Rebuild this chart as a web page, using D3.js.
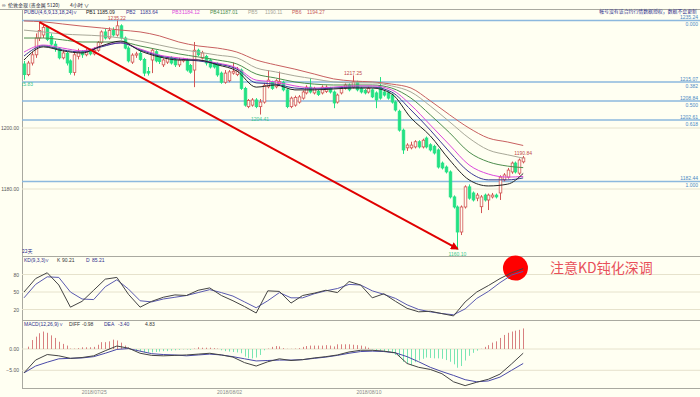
<!DOCTYPE html>
<html lang="zh">
<head>
<meta charset="UTF-8" />
<title>伦敦金现 4小时</title>
<script src="https://d3js.org/d3.v7.min.js"></script>
<style>
  body { margin: 0; background: #fffff2; }
  svg { display: block; }
  text { font-family: "Liberation Sans", Arial, sans-serif; }
  .cjk { font-family: "Noto Sans CJK SC", sans-serif; }
</style>
</head>
<body>
<div id="chart"></div>
<script>
var w = 700, h = 397;
var left = 22, right = 700;

// 4h candles, oldest first
var opens = [1221.0,1217.5,1221.3,1224.0,1229.5,1230.5,1233.0,1230.0,1227.5,1226.0,
  1223.0,1224.5,1222.0,1218.2,1223.5,1225.0,1224.0,1225.2,1224.3,1225.5,
  1228.0,1231.5,1229.5,1232.0,1230.5,1233.5,1229.5,1226.2,1221.6,1223.9,
  1224.5,1222.5,1218.5,1222.3,1225.0,1223.5,1220.7,1221.6,1223.0,1222.3,
  1220.7,1222.0,1222.3,1220.5,1219.0,1225.5,1222.9,1223.5,1222.3,1221.0,
  1221.0,1218.0,1215.0,1215.5,1218.0,1217.5,1219.0,1213.0,1207.0,1207.5,
  1209.2,1207.0,1208.5,1213.5,1215.0,1213.5,1214.5,1215.0,1212.5,1207.0,
  1207.5,1208.5,1209.8,1211.5,1213.4,1211.5,1212.0,1211.5,1212.0,1213.0,
  1211.8,1208.5,1211.5,1213.1,1214.1,1213.4,1215.0,1213.0,1212.3,1211.8,
  1212.5,1211.5,1213.4,1211.8,1211.5,1210.8,1208.5,1205.5,1199.3,1193.5,
  1193.5,1193.8,1195.5,1193.8,1196.7,1194.5,1194.0,1192.8,1188.5,1187.2,
  1185.6,1177.4,1174.1,1165.9,1174.1,1180.7,1178.7,1177.0,1174.2,1178.0,
  1176.4,1177.4,1178.0,1178.7,1183.0,1183.9,1185.6,1188.5,1185.2,1188.9];
var highs = [1222.0,1222.0,1225.0,1231.0,1234.7,1234.0,1233.5,1231.0,1228.5,1226.5,
  1225.5,1225.0,1222.5,1225.0,1226.0,1225.5,1226.0,1226.0,1226.5,1228.5,
  1232.0,1232.5,1233.0,1233.0,1235.22,1234.0,1230.0,1226.8,1224.5,1225.0,
  1225.5,1223.0,1220.0,1226.0,1225.5,1224.0,1222.8,1223.6,1223.5,1222.8,
  1223.0,1223.0,1222.8,1221.0,1228.2,1226.0,1225.3,1224.0,1222.8,1221.6,
  1221.5,1218.5,1219.0,1219.0,1221.5,1220.0,1219.5,1213.5,1209.5,1209.8,
  1209.8,1209.5,1214.8,1219.0,1215.5,1216.0,1218.5,1215.5,1213.0,1210.3,
  1210.6,1210.8,1212.3,1214.0,1216.4,1213.5,1212.5,1214.0,1214.0,1213.5,
  1212.3,1211.3,1213.5,1214.6,1214.6,1217.25,1215.5,1213.5,1212.8,1213.5,
  1213.0,1212.0,1216.7,1212.3,1212.0,1211.3,1209.0,1206.0,1199.8,1195.0,
  1195.5,1196.0,1196.0,1196.5,1197.2,1195.0,1194.5,1193.3,1189.0,1187.7,
  1186.1,1177.9,1174.6,1174.6,1181.2,1181.5,1179.2,1178.7,1178.0,1178.5,
  1178.5,1178.7,1178.5,1184.5,1185.2,1186.9,1189.0,1189.0,1190.0,1190.84];
var lows = [1215.83,1217.0,1220.5,1223.0,1228.5,1229.5,1228.5,1227.0,1225.0,1222.5,
  1222.5,1220.5,1217.5,1217.2,1222.5,1223.0,1223.5,1223.8,1223.8,1225.0,
  1227.5,1229.0,1229.0,1230.0,1230.0,1229.0,1225.8,1221.5,1221.0,1223.0,
  1222.0,1217.0,1217.2,1218.0,1221.5,1221.0,1220.0,1221.0,1220.8,1220.0,
  1220.0,1221.5,1218.5,1217.8,1213.4,1223.5,1222.5,1220.5,1219.5,1219.5,
  1216.8,1214.5,1214.5,1215.0,1217.5,1217.0,1212.5,1207.0,1206.5,1207.0,
  1206.5,1204.41,1208.0,1213.0,1212.5,1213.0,1214.0,1212.0,1206.5,1206.5,
  1207.0,1208.0,1209.3,1211.0,1211.3,1211.0,1210.5,1211.0,1211.5,1211.3,
  1206.5,1208.0,1211.0,1212.6,1212.0,1213.0,1212.0,1211.3,1211.0,1211.3,
  1209.8,1206.5,1209.3,1210.3,1209.3,1208.0,1205.4,1198.8,1191.5,1192.5,
  1193.0,1193.3,1193.3,1193.3,1193.3,1192.3,1191.3,1186.7,1186.4,1185.1,
  1176.9,1173.6,1160.10,1164.9,1173.6,1176.5,1175.9,1176.0,1172.1,1175.9,
  1173.1,1176.9,1176.9,1176.4,1182.5,1183.4,1185.0,1185.1,1184.6,1188.4];
var closes = [1217.5,1221.3,1224.0,1229.5,1232.0,1233.0,1229.0,1227.5,1226.0,1223.0,
  1224.6,1221.3,1218.2,1224.0,1225.0,1224.0,1225.2,1224.3,1225.5,1228.0,
  1231.5,1229.5,1232.0,1230.5,1233.5,1229.5,1226.2,1222.0,1223.9,1224.3,
  1222.5,1218.0,1218.0,1225.5,1222.0,1221.8,1222.3,1223.0,1221.3,1220.7,
  1222.3,1222.5,1219.0,1218.3,1225.5,1224.0,1224.6,1221.3,1220.0,1220.0,
  1217.4,1215.0,1218.0,1218.4,1218.6,1219.0,1213.0,1207.5,1209.0,1209.2,
  1207.0,1208.5,1214.0,1215.7,1213.0,1215.5,1215.2,1212.5,1207.0,1209.8,
  1210.0,1210.2,1211.8,1213.4,1211.8,1213.0,1211.0,1213.4,1213.4,1211.8,
  1208.2,1210.8,1213.1,1214.1,1212.5,1215.1,1212.5,1211.8,1211.5,1213.0,
  1210.2,1209.2,1209.8,1210.8,1209.8,1208.5,1205.9,1199.3,1192.8,1194.4,
  1194.4,1195.5,1193.8,1196.0,1193.8,1192.8,1191.8,1187.2,1186.9,1185.6,
  1177.4,1174.1,1165.9,1174.1,1180.7,1177.0,1176.4,1178.0,1177.4,1176.4,
  1178.0,1178.0,1177.4,1183.9,1184.6,1186.2,1188.5,1185.6,1189.5,1190.2];

// PUBU(4,6,9,13,18,24) read every 5 bars
var pubuIdx = [0,5,10,15,20,25,30,35,40,45,50,55,60,65,70,75,80,85,90,95,100,105,110,115,120,125,129];
var pb1 = [1222.3,1226.6,1225.3,1224.6,1226.9,1228.5,1225.3,1223.3,1222.3,1222.3,1220.7,1218.7,1213.4,1214.1,1212.5,1212.5,1212.8,1213.1,1213.1,1211.2,1203.3,1197.4,1189.5,1183.0,1181.0,1181.6,1185.09];
var pb2 = [1223.6,1226.9,1225.6,1224.9,1226.6,1227.9,1225.6,1223.6,1222.6,1222.0,1221.0,1219.3,1214.8,1214.4,1213.1,1212.8,1213.1,1213.4,1213.4,1211.8,1205.9,1199.3,1192.1,1185.6,1183.0,1183.0,1183.64];
var pb3 = [1224.9,1227.2,1226.2,1225.3,1226.9,1227.9,1225.9,1223.9,1223.0,1222.3,1221.3,1219.7,1215.7,1215.1,1213.8,1213.1,1213.4,1213.8,1213.8,1212.5,1207.5,1201.0,1194.4,1187.9,1184.9,1183.9,1184.12];
var pb4 = [1229.5,1229.5,1228.9,1228.2,1228.2,1228.2,1226.9,1225.6,1224.3,1223.3,1222.3,1221.0,1217.7,1216.4,1215.1,1214.4,1214.1,1214.1,1214.1,1213.1,1209.8,1204.3,1198.4,1192.1,1188.9,1187.5,1187.01];
var pb5 = [1232.1,1231.5,1230.8,1230.5,1230.2,1229.5,1228.5,1227.2,1225.9,1224.9,1223.9,1223.0,1219.7,1218.4,1217.1,1216.1,1215.1,1214.8,1214.8,1213.8,1211.8,1207.2,1202.0,1196.7,1192.8,1191.2,1190.11];
var pb6 = [1235.1,1234.8,1234.1,1233.4,1232.8,1232.1,1231.5,1230.2,1228.2,1226.9,1226.2,1224.9,1222.3,1220.7,1219.3,1217.7,1216.1,1215.4,1215.1,1214.4,1213.1,1208.9,1204.3,1200.0,1196.7,1195.4,1194.27];

// KD(9,3,3) and MACD lines, read every 3 bars
var subIdx = [0,3,6,9,12,15,18,21,24,27,30,33,36,39,42,45,48,51,54,57,60,63,66,69,72,75,78,81,84,87,90,93,96,99,102,105,108,111,114,117,120,123,126,129];
var kValues = [50,73,83,62,24,34,53,72,75,46,24,34,41,45,44,53,57,44,35,25,14,52,51,31,44,48,53,49,68,62,40,47,34,22,16,17,13,9,33,50,61,73,83,90.21];
var dValues = [40,63,76,75,50,38,37,59,71,55,35,33,38,41,44,49,54,49,43,33,23,35,49,40,40,47,52,56,63,62,52,46,39,28,20,16,13,11,21,39,51,66,79,85.21];
var diffValues = [-5.6,-2.6,-1.3,-1.6,-2.2,-2.0,-1.6,-0.4,0.7,0.2,-1.0,-1.5,-1.6,-1.5,-1.4,-1.2,-1.0,-1.4,-1.9,-3.2,-4.0,-3.0,-2.3,-2.7,-2.5,-2.1,-1.8,-1.4,-0.7,-0.3,-0.3,-0.5,-0.9,-3.4,-4.3,-4.8,-5.8,-7.7,-8.6,-7.8,-7.1,-5.9,-3.5,-0.98];
var deaValues = [-5.6,-4.0,-3.1,-2.3,-2.2,-2.1,-1.8,-1.0,-0.1,0.1,-0.5,-1.1,-1.3,-1.4,-1.6,-1.4,-1.2,-1.4,-1.8,-2.3,-2.8,-2.7,-2.6,-2.6,-2.5,-2.2,-1.9,-1.5,-1.0,-0.6,-0.5,-0.6,-0.9,-1.8,-3.0,-4.3,-5.3,-6.2,-7.2,-7.7,-7.5,-6.6,-5.0,-3.40];
// MACD histogram, one per bar
var macdBars = [0.0,0.55,2.1,2.9,3.7,4.1,3.8,3.2,2.6,1.7,1.2,0.8,0.1,0.1,0.2,0.4,0.4,0.4,0.5,1.0,
  1.6,1.6,1.8,2.2,2.0,1.5,0.8,0.4,-0.2,-0.4,-0.6,-0.8,-0.85,-0.8,-0.7,-0.6,-0.5,-0.5,-0.4,-0.3,
  -0.2,-0.1,-0.15,-0.2,0.1,0.4,0.3,0.3,0.3,0.2,0.1,-0.3,-0.5,-0.6,-0.7,-0.8,-1.0,-1.8,-2.2,-2.2,
  -2.0,-1.4,-0.3,0.1,0.5,0.7,0.6,0.2,0.05,0.05,0.1,0.2,0.5,0.7,0.8,0.8,0.8,0.8,0.9,0.8,
  0.6,1.1,1.1,1.1,1.1,1.0,0.9,0.8,0.6,0.3,-0.1,-0.3,-0.4,-0.5,-0.6,-1.0,-1.4,-1.9,-3.0,-3.4,
  -3.8,-3.1,-2.7,-2.3,-2.0,-2.1,-2.2,-2.2,-2.3,-2.6,-3.0,-3.6,-4.4,-4.0,-2.7,-1.6,-0.9,-0.4,0.05,0.5,
  0.9,1.5,1.8,2.6,3.3,3.8,4.1,4.3,4.5,4.83];

var fibPrices = [1235.24, 1215.07, 1208.84, 1202.61, 1182.44];
var fibRatios = ["0.000", "0.382", "0.500", "0.618", "1.000"];
var priceTicks = [1200, 1180];
var kdTicks = [80, 50, 20];
var macdTicks = [0, -5];
var dateIdx = [18, 53, 89];
var dateLabels = ["2018/07/25", "2018/08/02", "2018/08/10"];
var peakIdx = [24, 85, 129];
var troughIdx = [0, 61, 112];

var upColor = "#d25555", downColor = "#22e283";
var pbColors = ["#222222", "#3a3a94", "#dc48dc", "#4e8e4e", "#a8a898", "#c86060"];
var lineColor = "#a9a9a0", fibColor = "#8cb8de", gridColor = "#e6e2cc";
var fs = "5px";

var svg = d3.select("#chart").append("svg")
  .attr("width", w).attr("height", h);

svg.append("rect").attr("width", w).attr("height", h).attr("fill", "#fffff2");

var x = d3.scaleLinear().domain([0, 129]).range([24, 523.2]);
var yPrice = d3.scaleLinear().domain([1180, 1200]).range([189, 128]);
var yKD = d3.scaleLinear().domain([20, 80]).range([309.5, 274.5]);
var yMacd = d3.scaleLinear().domain([-5, 0]).range([370.3, 349]);

var defs = svg.append("defs");
defs.append("clipPath").attr("id", "mainClip")
  .append("rect").attr("x", left).attr("y", 10).attr("width", right - left).attr("height", 246);
defs.append("marker").attr("id", "arrow")
  .attr("viewBox", "0 0 10 10").attr("refX", 8).attr("refY", 5)
  .attr("markerWidth", 4).attr("markerHeight", 4).attr("orient", "auto")
  .append("path").attr("d", "M0,0L10,5L0,10z").attr("fill", "#e00000");

// ---- frame ----
svg.append("line").attr("x1", 0).attr("x2", w).attr("y1", 9.5).attr("y2", 9.5).attr("stroke", lineColor);
[256.5, 320.5, 388.5].forEach(function (yy) {
  svg.append("line").attr("x1", left).attr("x2", right).attr("y1", yy).attr("y2", yy).attr("stroke", lineColor);
});
svg.append("line").attr("x1", left + 0.5).attr("x2", left + 0.5).attr("y1", 9.5).attr("y2", 388.5).attr("stroke", lineColor);

// ---- gridlines + left labels ----
function grid(ticks, scale, fmt) {
  ticks.forEach(function (t) {
    svg.append("line").attr("x1", left).attr("x2", right)
      .attr("y1", scale(t)).attr("y2", scale(t)).attr("stroke", gridColor);
  });
  var axis = d3.axisLeft(scale).tickValues(ticks).tickSize(0).tickPadding(2).tickFormat(fmt);
  var g = svg.append("g").attr("transform", "translate(" + (left - 1) + ",0)").call(axis);
  g.select(".domain").remove();
  g.selectAll("text").attr("font-size", fs).attr("fill", "#555")
    .attr("font-family", "Liberation Sans, Arial, sans-serif");
}
grid(priceTicks, yPrice, d3.format(".2f"));
grid(kdTicks, yKD, d3.format("d"));
grid(macdTicks, yMacd, d3.format(".2f"));

// ---- fibonacci levels ----
var main = svg.append("g").attr("clip-path", "url(#mainClip)");
fibPrices.forEach(function (p, i) {
  var yy = yPrice(p);
  main.append("line").attr("x1", left).attr("x2", right).attr("y1", yy).attr("y2", yy)
    .attr("stroke", fibColor).attr("stroke-width", 1.4);
  svg.append("text").attr("x", 698).attr("y", yy - 1.5).attr("text-anchor", "end")
    .attr("font-size", fs).attr("fill", "#4a88c4").text(p.toFixed(2));
  svg.append("text").attr("x", 698).attr("y", yy + 5.8).attr("text-anchor", "end")
    .attr("font-size", fs).attr("fill", "#4a88c4").text(fibRatios[i]);
});

// ---- candles ----
var idx = d3.range(closes.length);
var bw = 2.6;
main.selectAll(".wick").data(idx).enter().append("line")
  .attr("x1", function (i) { return Math.round(x(i)) + 0.5; })
  .attr("x2", function (i) { return Math.round(x(i)) + 0.5; })
  .attr("y1", function (i) { return yPrice(highs[i]); })
  .attr("y2", function (i) { return yPrice(lows[i]); })
  .attr("stroke", function (i) { return closes[i] >= opens[i] ? upColor : downColor; })
  .attr("stroke-width", 1);
main.selectAll(".body").data(idx).enter().append("rect")
  .attr("x", function (i) { return Math.round(x(i)) + 0.5 - bw / 2; })
  .attr("y", function (i) { return yPrice(Math.max(opens[i], closes[i])); })
  .attr("width", bw)
  .attr("height", function (i) { return Math.max(1, Math.abs(yPrice(opens[i]) - yPrice(closes[i]))); })
  .attr("fill", function (i) { return closes[i] >= opens[i] ? "#fffff2" : downColor; })
  .attr("stroke", function (i) { return closes[i] >= opens[i] ? upColor : downColor; })
  .attr("stroke-width", 0.8);

// ---- PUBU lines ----
[pb6, pb5, pb4, pb3, pb2, pb1].forEach(function (series, k) {
  var line = d3.line()
    .x(function (d, i) { return x(pubuIdx[i]); })
    .y(function (d) { return yPrice(d); })
    .curve(d3.curveMonotoneX);
  main.append("path").datum(series).attr("fill", "none")
    .attr("stroke", pbColors[5 - k]).attr("stroke-width", 1).attr("d", line);
});

// ---- high / low labels ----
peakIdx.forEach(function (i) {
  main.append("text").attr("x", x(i)).attr("y", yPrice(highs[i]) - 0.8)
    .attr("text-anchor", "middle").attr("font-size", fs).attr("fill", "#c04848")
    .text(highs[i].toFixed(2));
});
troughIdx.forEach(function (i) {
  main.append("text").attr("x", x(i)).attr("y", yPrice(lows[i]) + 6)
    .attr("text-anchor", "middle").attr("font-size", fs).attr("fill", "#3cc88c")
    .text(lows[i].toFixed(2));
});

// ---- trend arrow ----
main.append("line")
  .attr("x1", x(4)).attr("y1", yPrice(highs[4]))
  .attr("x2", x(112)).attr("y2", yPrice(lows[112]) - 1)
  .attr("stroke", "#e00000").attr("stroke-width", 2).attr("marker-end", "url(#arrow)");

// ---- KD panel ----
svg.append("circle").attr("cx", x(127)).attr("cy", yKD(91)).attr("r", 12.5).attr("fill", "#ff0000");
var kdLine = function (vals) {
  return d3.line().x(function (d, i) { return x(subIdx[i]); }).y(function (d) { return yKD(d); })(vals);
};
svg.append("path").attr("d", kdLine(dValues)).attr("fill", "none").attr("stroke", "#5a5ab0").attr("stroke-width", 1);
svg.append("path").attr("d", kdLine(kValues)).attr("fill", "none").attr("stroke", "#444").attr("stroke-width", 1);

svg.append("text").attr("class", "cjk").attr("x", 550).attr("y", 273)
  .attr("font-size", "14px").attr("fill", "#e8505a").text("注意KD钝化深调");

// ---- MACD panel ----
svg.selectAll(".hist").data(idx).enter().append("line")
  .attr("x1", function (i) { return Math.round(x(i)) + 0.5; })
  .attr("x2", function (i) { return Math.round(x(i)) + 0.5; })
  .attr("y1", yMacd(0))
  .attr("y2", function (i) { return yMacd(macdBars[i]); })
  .attr("stroke", function (i) { return macdBars[i] >= 0 ? "#d88080" : "#78e6b4"; })
  .attr("stroke-width", 1);
var macdLine = function (vals) {
  return d3.line().x(function (d, i) { return x(subIdx[i]); }).y(function (d) { return yMacd(d); })(vals);
};
svg.append("path").attr("d", macdLine(deaValues)).attr("fill", "none").attr("stroke", "#4a4aa8").attr("stroke-width", 1);
svg.append("path").attr("d", macdLine(diffValues)).attr("fill", "none").attr("stroke", "#444").attr("stroke-width", 1);

// ---- date axis ----
var xAxis = d3.axisBottom(x).tickValues(dateIdx).tickSize(0).tickPadding(2)
  .tickFormat(function (d, i) { return dateLabels[i]; });
var gx = svg.append("g").attr("transform", "translate(0,388)").call(xAxis);
gx.select(".domain").remove();
gx.selectAll("text").attr("font-size", fs).attr("fill", "#888")
  .attr("font-family", "Liberation Sans, Arial, sans-serif");

// ---- headers ----
function label(xx, yy, txt, color, cls) {
  return svg.append("text").attr("class", cls || null).attr("x", xx).attr("y", yy)
    .attr("font-size", fs).attr("fill", color).text(txt);
}
label(2, 7, "∞", "#334", null);
label(8, 7, "伦敦金现 (贵金属 5120)", "#223", "cjk");
label(70, 7, "4小时 ∨", "#223", "cjk");

var pubuLegend = [["PB1", 86, 97, "1185.09"], ["PB2", 126, 140, "1183.64"], ["PB3", 172, 182, "1184.12"],
  ["PB4", 210, 220, "1187.01"], ["PB5", 248, 265, "1190.11"], ["PB6", 292, 307, "1194.27"]];
label(24, 14.2, "PUBU(4,6,9,13,18,24)∨", "#30308c");
pubuLegend.forEach(function (d, i) {
  label(d[1], 14.2, d[0], pbColors[i]);
  label(d[2], 14.2, d[3], pbColors[i]);
});
label(697, 13, "帐号没有该合约行情数据授权，数据不会更新", "#30308c", "cjk")
  .attr("text-anchor", "end").attr("font-size", "4.9px");
label(22, 253, "22天", "#30308c", "cjk");

label(24, 262, "KD(9,3,3)∨", "#30308c");
label(57, 262, "K", "#333");
label(62, 262, "90.21", "#333");
label(86, 262, "D", "#30308c");
label(92, 262, "85.21", "#30308c");

label(24, 326, "MACD(12,26,9)∨", "#30308c");
label(69, 326, "DIFF", "#333");
label(82, 326, "-0.98", "#333");
label(104, 326, "DEA", "#30308c");
label(118, 326, "-3.40", "#30308c");
label(145, 326, "4.83", "#333");
</script>
</body>
</html>
